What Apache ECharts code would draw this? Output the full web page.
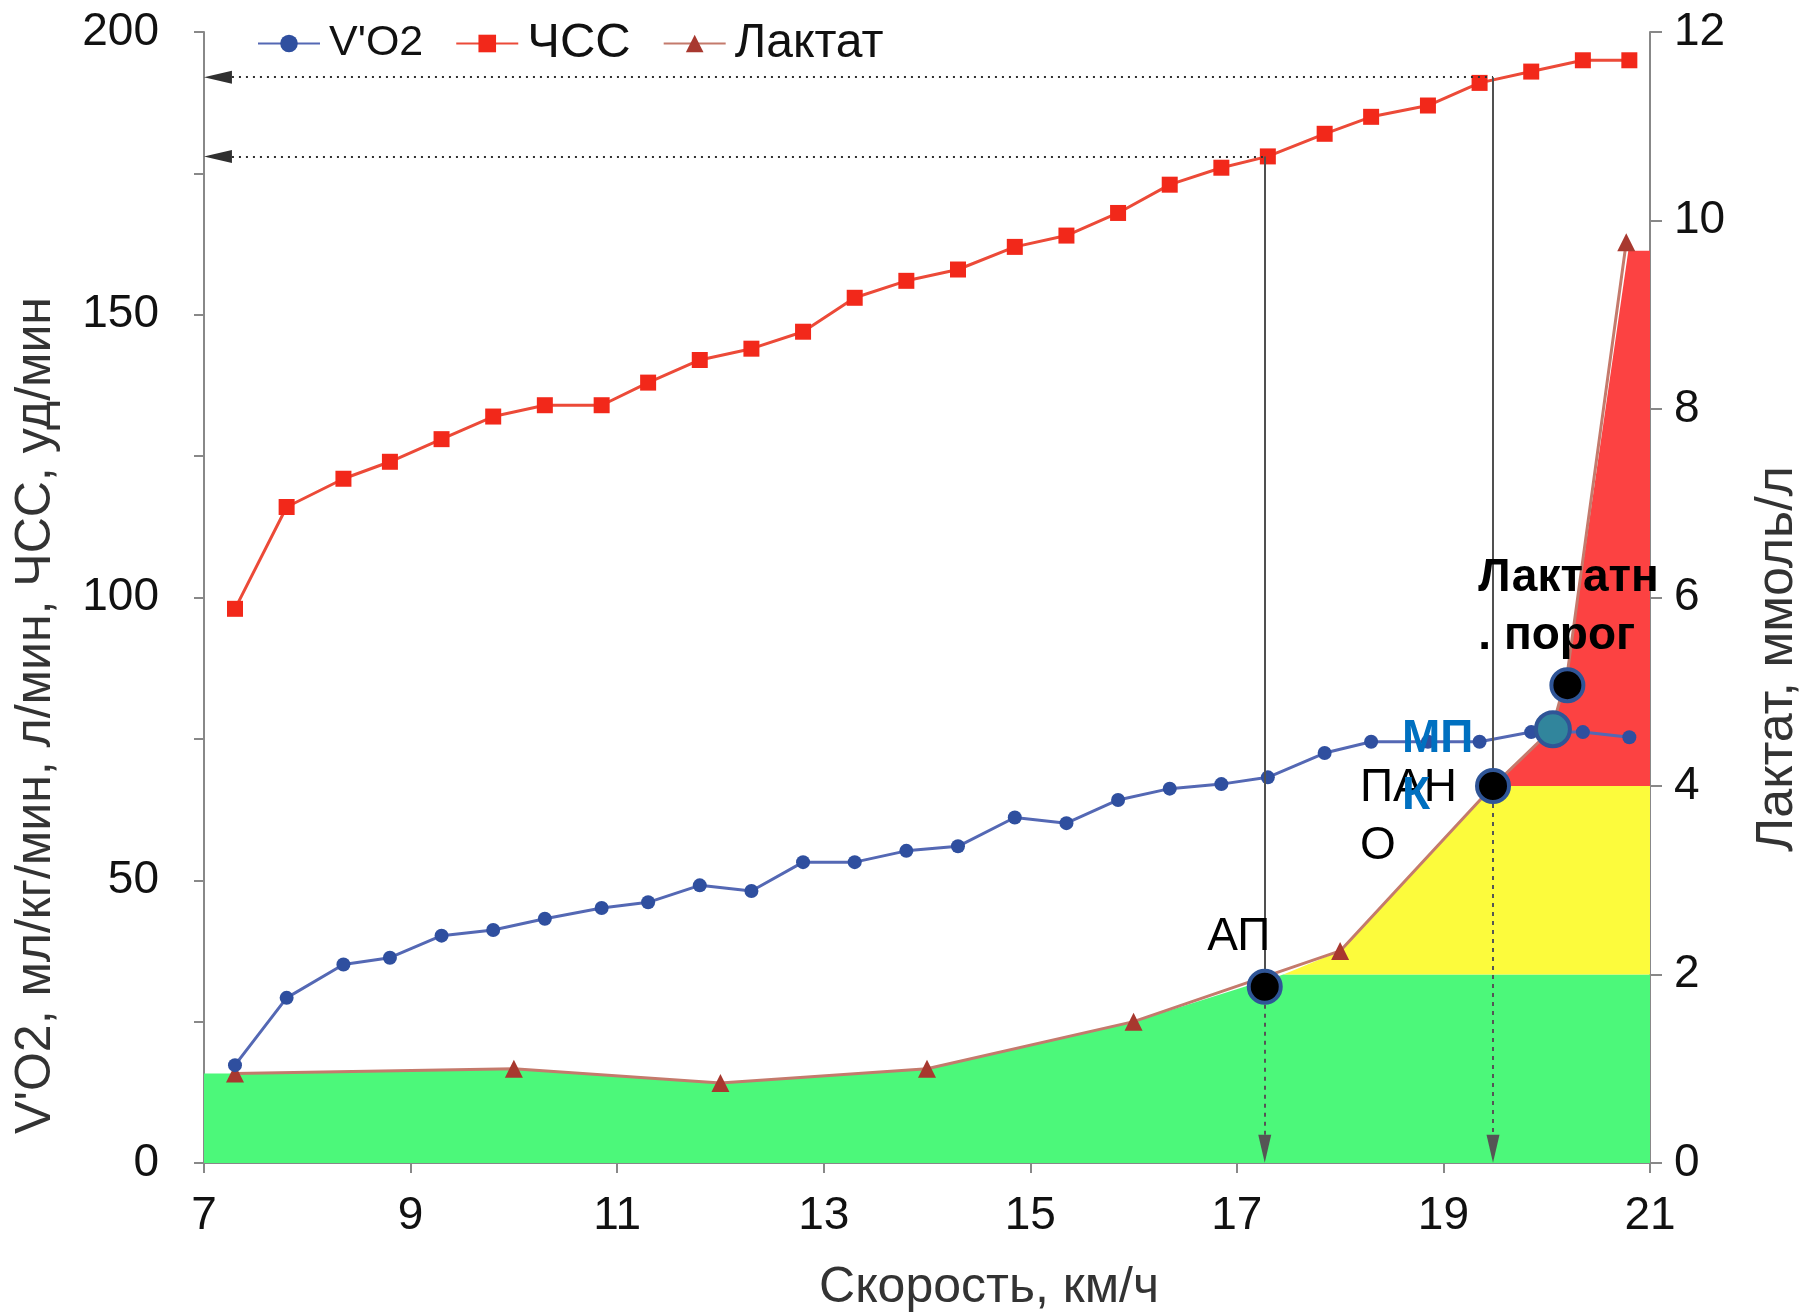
<!DOCTYPE html>
<html>
<head>
<meta charset="utf-8">
<script src="https://cdn.jsdelivr.net/npm/echarts@6/dist/echarts.min.js"></script>
<style>
  html, body { margin: 0; background: #fff; }
  #chart { width: 1800px; height: 1316px; }
</style>
</head>
<body>
<div id="chart"></div>
<script>
// скорость, км/ч (общие точки V'O2 и ЧСС)
const speed = [7.3, 7.8, 8.35, 8.8, 9.3, 9.8, 10.3, 10.85, 11.3, 11.8, 12.3, 12.8, 13.3, 13.8,
  14.3, 14.85, 15.35, 15.85, 16.35, 16.85, 17.3, 17.85, 18.3, 18.85, 19.35, 19.85, 20.35, 20.8]
const vo2 = [17.3, 29.2, 35.1, 36.3, 40.2, 41.2, 43.2, 45.1, 46.1, 49.1, 48.1, 53.2, 53.2, 55.2,
  56, 61.1, 60.1, 64.2, 66.2, 67, 68.2, 72.5, 74.5, 74.5, 74.5, 76.2, 76.2, 75.3]
const hr = [98, 116, 121, 124, 128, 132, 134, 134, 138, 142, 144, 147, 153, 156,
  158, 162, 164, 168, 173, 176, 178, 182, 185, 187, 191, 193, 195, 195]

// лактат, ммоль/л (точки с маркерами)
const lactateSpeed = [7.3, 10, 12, 14, 16, 18, 20.77]
const lactate = [0.95, 1.0, 0.85, 1.0, 1.5, 2.25, 9.77]
// изгибы кривой без маркеров
const lactateCurve = [[19.48, 4.0], [20.05, 4.6], [20.2, 5.2]]

// зоны
const zoneGreen = [[7.0, 0.95], [7.3, 0.95], [10, 1.0], [12, 0.85], [14, 1.0], [16, 1.5], [17.45, 2.0], [21, 2.0]]
const zoneYellow = [[17.45, 2.0], [18, 2.25], [19.48, 4.0], [21, 4.0]]
const zoneRed = [[19.48, 4.0], [20.05, 4.6], [20.2, 5.2], [20.79, 9.68], [21, 9.68]]

// пороги
const ap = { speed: 17.27, lactate: 1.87, hr: 178 }
const pano = { speed: 19.48, lactate: 4.0, hr: 192 }
const lt = { speed: 20.2, lactate: 5.07 }
const mpk = { speed: 20.06, vo2: 76.7 }

const FONT = "'Liberation Sans', Arial, sans-serif"
const lacToLeft = v => v * 200 / 12

const lactateLine = lactateSpeed.map((s, i) => [s, lactate[i]])
  .concat(lactateCurve.map(p => ({ value: p, symbol: 'none' })))
  .sort((a, b) => (a.value || a)[0] - (b.value || b)[0])

function zone (name, data, color, origin) {
  return {
    name: name,
    type: 'line',
    yAxisIndex: 1,
    data: data,
    symbol: 'none',
    silent: true,
    z: 1,
    lineStyle: { width: 0 },
    areaStyle: { color: color, opacity: 1, origin: origin }
  }
}

const dotted = { type: [2, 5], color: '#303030', width: 2 }
const dashedDown = { type: [4, 5], color: '#555', width: 2 }
const solid = { type: 'solid', color: '#505050', width: 2 }
const arrow = { symbol: 'triangle', symbolSize: [13, 28] }

const chart = echarts.init(document.getElementById('chart'))
chart.setOption({
  animation: false,
  textStyle: { fontFamily: FONT },
  grid: { left: 204, right: 150, top: 32, bottom: 153, outerBoundsMode: 'none' },
  legend: {
    left: 252,
    top: 14,
    itemWidth: 62,
    itemHeight: 22,
    itemGap: 32,
    textStyle: { fontSize: 46, color: '#111', fontFamily: FONT, padding: [0, 0, 0, 4] },
    data: [
      { name: "V'O2", textStyle: { fontSize: 43 } },
      { name: 'ЧСС', textStyle: { fontSize: 49 } },
      { name: 'Лактат', textStyle: { fontSize: 48 } }
    ]
  },
  xAxis: {
    type: 'value',
    min: 7,
    max: 21,
    interval: 2,
    name: 'Скорость, км/ч',
    nameLocation: 'middle',
    nameGap: 100,
    nameTextStyle: { fontSize: 50, color: '#333', padding: [0, 0, 0, 124] },
    axisLine: { lineStyle: { color: '#888', width: 2 } },
    axisTick: { show: true, length: 10, lineStyle: { color: '#888', width: 2 } },
    axisLabel: { fontSize: 46, color: '#111', margin: 30 },
    splitLine: { show: false }
  },
  yAxis: [
    {
      type: 'value',
      min: 0,
      max: 200,
      interval: 50,
      name: "V'O2, мл/кг/мин, л/мин, ЧСС, уд/мин",
      nameLocation: 'middle',
      nameRotate: 90,
      nameGap: 143,
      nameTextStyle: { fontSize: 50, color: '#333', padding: [0, 236, 0, 0] },
      axisLine: { show: true, lineStyle: { color: '#888', width: 2 } },
      axisTick: { show: true, length: 10, lineStyle: { color: '#888', width: 2 } },
      minorTick: { show: true, splitNumber: 2, length: 10, lineStyle: { color: '#888', width: 2 } },
      axisLabel: { fontSize: 46, color: '#111', margin: 45 },
      splitLine: { show: false }
    },
    {
      type: 'value',
      min: 0,
      max: 12,
      interval: 2,
      position: 'right',
      name: 'Лактат, ммоль/л',
      nameLocation: 'middle',
      nameRotate: 90,
      nameGap: 102,
      nameTextStyle: { fontSize: 52, color: '#333', padding: [0, 123, 0, 0] },
      axisLine: { show: true, lineStyle: { color: '#888', width: 2 } },
      axisTick: { show: true, length: 12, lineStyle: { color: '#888', width: 2 } },
      axisLabel: { fontSize: 46, color: '#111', margin: 24 },
      splitLine: { show: false }
    }
  ],
  series: [
    zone('green', zoneGreen, '#4cf87a', 'start'),
    zone('yellow', zoneYellow, '#fcfb3c', 2),
    zone('red', zoneRed, '#fc4242', 4),
    {
      name: 'Лактат',
      type: 'line',
      yAxisIndex: 1,
      data: lactateLine,
      symbol: 'triangle',
      symbolSize: 18,
      z: 3,
      itemStyle: { color: '#a8382f' },
      lineStyle: { color: '#c47a6c', width: 3 }
    },
    {
      name: "V'O2",
      type: 'line',
      data: speed.map((s, i) => [s, vo2[i]]),
      symbol: 'circle',
      symbolSize: 14,
      z: 4,
      itemStyle: { color: '#2f4f9f' },
      lineStyle: { color: '#5468b4', width: 3 }
    },
    {
      name: 'ЧСС',
      type: 'line',
      data: speed.map((s, i) => [s, hr[i]]),
      symbol: 'rect',
      symbolSize: 16,
      z: 4,
      itemStyle: { color: '#f2281a' },
      lineStyle: { color: '#ec4a38', width: 3 },
      markLine: {
        silent: true,
        animation: false,
        label: { show: false },
        symbol: 'none',
        data: [
          [{ coord: [7.135, ap.hr], lineStyle: dotted, ...arrow }, { coord: [ap.speed, ap.hr], symbol: 'none' }],
          [{ coord: [7.135, pano.hr], lineStyle: dotted, ...arrow }, { coord: [pano.speed, pano.hr], symbol: 'none' }],
          [{ coord: [ap.speed, ap.hr], lineStyle: solid, symbol: 'none' }, { coord: [ap.speed, lacToLeft(ap.lactate)], symbol: 'none' }],
          [{ coord: [pano.speed, pano.hr], lineStyle: solid, symbol: 'none' }, { coord: [pano.speed, lacToLeft(pano.lactate)], symbol: 'none' }],
          [{ coord: [ap.speed, lacToLeft(ap.lactate)], lineStyle: dashedDown, symbol: 'none' }, { coord: [ap.speed, 2.5], ...arrow }],
          [{ coord: [pano.speed, lacToLeft(pano.lactate)], lineStyle: dashedDown, symbol: 'none' }, { coord: [pano.speed, 2.5], ...arrow }]
        ]
      }
    },
    {
      type: 'scatter',
      yAxisIndex: 1,
      z: 6,
      symbolSize: 32,
      itemStyle: { color: '#000', borderColor: '#2f5597', borderWidth: 4, opacity: 1 },
      label: { show: true, position: 'inside', fontSize: 46, color: '#000', fontFamily: FONT },
      data: [
        { value: [ap.speed, ap.lactate], label: { formatter: 'АП', offset: [-26, -49] } },
        {
          value: [pano.speed, pano.lactate],
          label: { formatter: 'ПАН\nО', align: 'left', lineHeight: 58, offset: [-133, 31] }
        },
        {
          value: [lt.speed, lt.lactate],
          label: { formatter: 'Лактатн\n. порог', align: 'left', fontWeight: 'bold', lineHeight: 58, offset: [-89, -78] }
        }
      ]
    },
    {
      type: 'scatter',
      z: 6,
      symbolSize: 34,
      itemStyle: { color: '#31859c', borderColor: '#2f5597', borderWidth: 4, opacity: 1 },
      label: {
        show: true,
        position: 'inside',
        formatter: 'МП\nК',
        align: 'left',
        fontSize: 46,
        fontWeight: 'bold',
        lineHeight: 57,
        color: '#0070c0',
        fontFamily: FONT,
        offset: [-151, 39]
      },
      data: [[mpk.speed, mpk.vo2]]
    }
  ]
})
</script>
</body>
</html>
